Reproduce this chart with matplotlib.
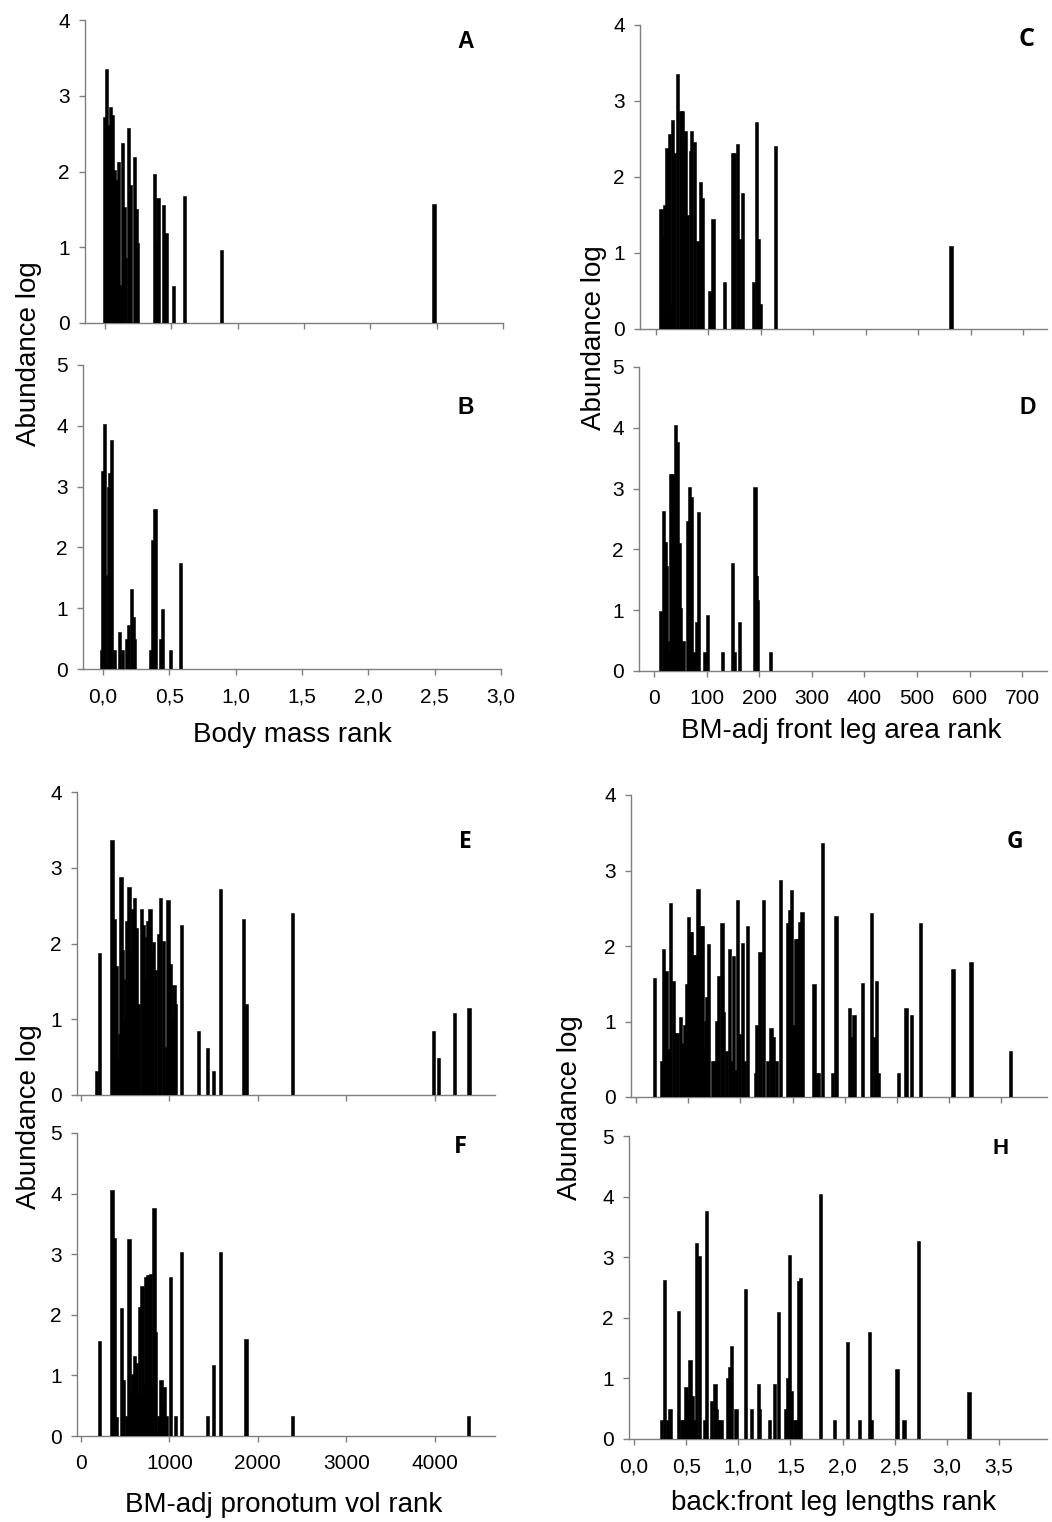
import matplotlib
matplotlib.use("Agg")
import matplotlib.pyplot as plt

# ---------------- data ----------------
# Panel A: body mass rank (top)
a_x = [0.0, 0.015, 0.03, 0.04, 0.058, 0.075, 0.085, 0.10, 0.115, 0.13, 0.145, 0.155,
       0.18, 0.195, 0.22, 0.235, 0.245, 0.373, 0.385, 0.40, 0.44, 0.46, 0.517, 0.60, 0.88, 2.48]
a_y = [2.72, 3.35, 2.61, 2.85, 2.75, 2.02, 1.89, 2.12, 0.50, 2.38, 1.53, 0.86,
       2.57, 1.82, 2.19, 1.50, 1.05, 1.97, 1.07, 1.65, 1.56, 1.19, 0.49, 1.68, 0.97, 1.57]
# Panel B: body mass rank (bottom)
b_x = [-0.008, 0.0, 0.01, 0.022, 0.04, 0.049, 0.065, 0.09, 0.128, 0.149, 0.175, 0.193,
       0.214, 0.229, 0.24, 0.36, 0.376, 0.393, 0.436, 0.451, 0.51, 0.585]
b_y = [0.32, 3.25, 4.03, 1.55, 3.0, 3.23, 3.76, 0.32, 0.61, 0.32, 0.5, 0.72,
       1.32, 0.86, 0.5, 0.32, 2.12, 2.63, 0.5, 0.98, 0.32, 1.75]
# Panel C: BM-adj front leg area rank (top)
c_x = [9.5, 14, 17, 21, 25, 28.6, 32, 36, 41, 46, 50, 53, 56, 60, 65, 68, 73, 80, 84, 88.5,
       103, 108.5, 131, 145, 150, 155, 158, 165, 185, 192, 196, 199, 228, 562]
c_y = [1.58, 1.21, 1.63, 2.38, 2.57, 0.32, 2.75, 2.32, 3.36, 2.87, 2.87, 2.49, 2.61, 1.5,
       2.34, 2.61, 2.46, 1.16, 1.93, 1.73, 0.5, 1.45, 0.62, 2.32, 2.32, 2.44, 1.19, 1.79,
       0.62, 2.73, 1.18, 0.33, 2.41, 1.09]
# Panel D: BM-adj front leg area rank (bottom)
d_x = [12.6, 18.4, 21, 24, 26, 28.5, 32, 36, 41, 45, 47.5, 50, 53, 55, 63, 65, 68, 72, 76,
       80, 85, 97, 101.5, 130, 150, 153.7, 162.6, 192, 195, 197, 222]
d_y = [0.98, 2.63, 2.12, 1.73, 0.5, 0.32, 3.24, 3.24, 4.05, 3.76, 2.1, 1.03, 0.32, 0.5,
       2.47, 0.5, 3.03, 2.87, 0.32, 0.8, 2.61, 0.32, 0.92, 0.32, 1.77, 0.32, 0.8, 3.03,
       1.56, 1.17, 0.32]
# Panel E: BM-adj pronotum vol rank (top)
e_x = [177, 211, 351, 381, 396, 415, 434, 452, 468, 486, 505, 520, 543, 562, 581, 603, 630,
       652, 683, 705, 720, 739, 758, 781, 803, 822, 841, 879, 897, 931, 962, 984, 1007, 1030,
       1052, 1071, 1135, 1327, 1429, 1501, 1576, 1836, 1870, 2394, 3989, 4042, 4227, 4389]
e_y = [0.32, 1.87, 3.36, 2.32, 1.7, 0.49, 0.8, 2.88, 1.92, 0.98, 1.53, 2.3, 2.75, 1.83,
       2.45, 2.6, 2.2, 1.2, 2.45, 2.25, 1.55, 2.08, 2.3, 2.45, 1.9, 2.02, 1.65, 2.12, 2.6,
       2.03, 0.63, 2.57, 1.73, 1.0, 1.45, 1.2, 2.25, 0.85, 0.62, 0.32, 2.72, 2.32, 1.2, 2.4,
       0.85, 0.49, 1.08, 1.15]
# Panel F: BM-adj pronotum vol rank (bottom)
f_x = [207, 351, 377, 400, 460, 479, 517, 543, 562, 584, 607, 630, 652, 667, 690, 713, 735,
       758, 784, 807, 826, 837, 882, 905, 924, 943, 969, 1010, 1071, 1139, 1429, 1501, 1576,
       1867, 2394, 4385]
f_y = [1.56, 4.06, 3.27, 0.32, 2.12, 0.92, 0.33, 3.25, 0.73, 1.03, 1.32, 1.2, 0.7, 2.13,
       2.47, 0.87, 2.63, 2.65, 2.67, 0.81, 3.77, 1.72, 0.33, 0.92, 0.51, 0.81, 0.33, 2.62,
       0.33, 3.03, 0.33, 1.17, 3.03, 1.6, 0.33, 0.33]
# Panel G: back:front leg lengths rank (top)
g_x = [0.175, 0.249, 0.262, 0.287, 0.31, 0.332, 0.358, 0.377, 0.40, 0.425, 0.444, 0.463,
       0.489, 0.501, 0.52, 0.535, 0.552, 0.575, 0.594, 0.613, 0.632, 0.655, 0.67, 0.68,
       0.693, 0.734, 0.754, 0.77, 0.792, 0.824, 0.837, 0.865, 0.894, 0.913, 0.932, 0.95,
       0.97, 0.993, 1.022, 1.041, 1.066, 1.143, 1.156, 1.188, 1.22, 1.261, 1.293, 1.315,
       1.344, 1.386, 1.45, 1.468, 1.488, 1.51, 1.533, 1.552, 1.571, 1.59, 1.705, 1.731,
       1.75, 1.785, 1.884, 1.916, 2.044, 2.066, 2.088, 2.168, 2.254, 2.286, 2.302, 2.324,
       2.516, 2.586, 2.637, 2.724, 3.036, 3.209, 3.586]
g_y = [1.57, 0.48, 1.96, 1.67, 0.63, 2.57, 1.54, 0.85, 0.85, 1.06, 0.72, 0.95,
       1.5, 2.38, 2.19, 2.19, 1.88, 1.88, 2.75, 2.26, 2.26, 0.62, 1.01, 1.33,
       2.02, 0.48, 0.48, 1.01, 1.6, 2.31, 1.12, 0.61, 1.96, 0.48, 1.87, 0.36,
       2.61, 0.84, 2.04, 0.48, 2.27, 0.32, 0.96, 1.92, 2.61, 0.48, 0.91, 0.79,
       0.48, 2.88, 2.31, 2.48, 2.74, 0.96, 2.09, 2.09, 2.32, 2.45, 1.5, 0.32,
       0.32, 3.37, 0.32, 2.4, 1.18, 0.8, 1.09, 1.51, 2.44, 0.79, 1.54, 0.32,
       0.32, 1.18, 1.09, 2.31, 1.69, 1.79, 0.61]
# Panel H: back:front leg lengths rank (bottom)
h_x = [0.262, 0.294, 0.323, 0.345, 0.428, 0.46, 0.48, 0.499, 0.518, 0.537, 0.556, 0.575,
       0.598, 0.626, 0.674, 0.697, 0.745, 0.777, 0.793, 0.812, 0.834, 0.901, 0.917, 0.936,
       0.978, 1.067, 1.128, 1.192, 1.205, 1.301, 1.349, 1.384, 1.451, 1.473, 1.489, 1.512,
       1.537, 1.557, 1.579, 1.598, 1.79, 1.921, 2.049, 2.16, 2.26, 2.272, 2.522, 2.589,
       2.73, 3.212]
h_y = [0.31, 2.62, 0.31, 0.49, 2.12, 0.31, 0.31, 0.86, 0.64, 1.31, 0.71, 0.31,
       3.23, 3.02, 0.31, 3.76, 0.62, 0.91, 0.49, 0.31, 0.31, 1.0, 1.19, 1.54,
       0.49, 2.47, 0.49, 0.91, 0.49, 0.31, 0.91, 2.1, 0.49, 1.01, 3.03, 0.79,
       0.31, 0.31, 2.61, 2.65, 4.04, 0.31, 1.6, 0.31, 1.76, 0.31, 1.16, 0.31,
       3.26, 0.78]

bm_ticks = [0.0, 0.5, 1.0, 1.5, 2.0, 2.5, 3.0]
bm_labels = ["0,0", "0,5", "1,0", "1,5", "2,0", "2,5", "3,0"]
fl_ticks = [0, 100, 200, 300, 400, 500, 600, 700]
fl_labels = ["0", "100", "200", "300", "400", "500", "600", "700"]
pv_ticks = [0, 1000, 2000, 3000, 4000]
pv_labels = ["0", "1000", "2000", "3000", "4000"]
lg_ticks = [0.0, 0.5, 1.0, 1.5, 2.0, 2.5, 3.0, 3.5]
lg_labels = ["0,0", "0,5", "1,0", "1,5", "2,0", "2,5", "3,0", "3,5"]

x_titles = ["Body mass rank", "BM-adj front leg area rank",
            "BM-adj pronotum vol rank", "back:front leg lengths rank"]
y_title = "Abundance log"

# ---------------- figure ----------------
W, H = 1052, 1522
fig = plt.figure(figsize=(W / 100, H / 100), dpi=100)
fig.patch.set_facecolor("white")

AX_COL = "#7f7f7f"


def px_axes(x0, y0, x1, y1):
    return fig.add_axes([x0 / W, 1 - y1 / H, (x1 - x0) / W, (y1 - y0) / H])


def panel(box, xs, ys, width, xlim, ymax, xticks, xlabels, letter, lpos, lfont, lsize):
    ax = px_axes(*box)
    ax.bar(xs, ys, width=width, color="black", edgecolor="black", linewidth=0.4,
           align="center")
    ax.set_xlim(*xlim)
    ax.set_ylim(0, ymax)
    for s in ("top", "right"):
        ax.spines[s].set_visible(False)
    for s in ("left", "bottom"):
        ax.spines[s].set_color(AX_COL)
        ax.spines[s].set_linewidth(1.0)
        ax.spines[s].set_zorder(0.5)
    ax.set_yticks(range(0, ymax + 1))
    ax.set_xticks(xticks)
    if xlabels is None:
        ax.set_xticklabels([])
    else:
        ax.set_xticklabels(xlabels)
    ax.tick_params(axis="both", direction="out", length=4, width=1, color=AX_COL,
                   labelsize=15, labelcolor="black")
    ax.tick_params(axis="x", pad=9)
    ax.tick_params(axis="y", pad=7)
    for t in ax.get_xticklabels() + ax.get_yticklabels():
        t.set_fontfamily("Liberation Sans")
    fig.text(lpos[0] / W, 1 - lpos[1] / H, letter, ha="center", va="center",
             fontsize=lsize, fontweight="bold", family=lfont)
    return ax


panel((85, 20, 503, 323), a_x, a_y, 0.024, (-0.15, 3.0), 4, bm_ticks, None,
      "A", (466, 42), "Liberation Sans", 16.5)
panel((83, 365, 501, 669), b_x, b_y, 0.024, (-0.15, 3.0), 5, bm_ticks, bm_labels,
      "B", (466, 407), "Liberation Sans", 16.5)
panel((640, 25, 1047, 329), c_x, c_y, 6.0, (-30.5, 745), 4, fl_ticks, None,
      "C", (1026, 40), "Open Sans", 18)
panel((639, 367, 1047, 671), d_x, d_y, 6.0, (-28.5, 747), 5, fl_ticks, fl_labels,
      "D", (1028, 408), "Liberation Sans", 16.5)
panel((77, 792, 495, 1095), e_x, e_y, 36, (-45, 4683), 4, pv_ticks, None,
      "E", (465, 842), "Open Sans", 16.5)
panel((77, 1133, 495, 1436), f_x, f_y, 36, (-45, 4683), 5, pv_ticks, pv_labels,
      "F", (460, 1147), "Open Sans", 17)
panel((631, 795, 1047, 1097), g_x, g_y, 0.031, (-0.048, 3.936), 4, lg_ticks, None,
      "G", (1015, 842), "Open Sans", 16.5)
panel((629, 1136, 1047, 1439), h_x, h_y, 0.031, (-0.048, 3.96), 5, lg_ticks, lg_labels,
      "H", (1001, 1148), "Liberation Sans", 16)

# axis titles
lab_kw = dict(fontsize=20, family="Liberation Sans", color="black")
fig.text(292 / W, 1 - 735 / H, x_titles[0], ha="center", va="center", **lab_kw)
fig.text(841 / W, 1 - 731 / H, x_titles[1], ha="center", va="center", **lab_kw)
fig.text(284 / W, 1 - 1505 / H, x_titles[2], ha="center", va="center", **lab_kw)
fig.text(834 / W, 1 - 1503 / H, x_titles[3], ha="center", va="center", **lab_kw)

fig.text(29 / W, 1 - 354 / H, y_title, ha="center", va="center", rotation=90, **lab_kw)
fig.text(594 / W, 1 - 338 / H, y_title, ha="center", va="center", rotation=90, **lab_kw)
fig.text(29 / W, 1 - 1117 / H, y_title, ha="center", va="center", rotation=90, **lab_kw)
fig.text(570 / W, 1 - 1108 / H, y_title, ha="center", va="center", rotation=90, **lab_kw)

fig.savefig("out.png", dpi=100, facecolor="white")
